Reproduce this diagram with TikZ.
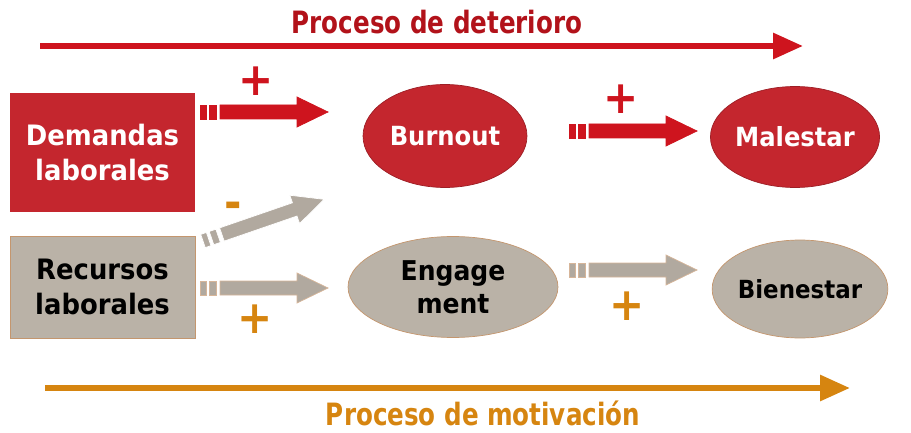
\documentclass[tikz,border=0pt]{standalone}
\usepackage{fontspec}
\setmainfont{DejaVu Sans}
\newfontfamily\headfont{DejaVu Sans}[FakeStretch=0.8]
\newfontfamily\boxfont{DejaVu Sans}[FakeStretch=0.92]
\usepackage{tikz}
\usetikzlibrary{shapes.geometric}
\usetikzlibrary{arrows.meta}
\usetikzlibrary{calc}
\definecolor{deepred}{RGB}{178, 18, 26}
\definecolor{boxred}{RGB}{196, 38, 46}
\definecolor{arrowred}{RGB}{206, 20, 30}
\definecolor{taupe}{RGB}{186, 178, 167}
\definecolor{ochre}{RGB}{214, 133, 16}
\definecolor{tanline}{RGB}{196, 150, 110}

\tikzset{
  pics/flowarrow/.style={code={
      \filldraw (0,-7) rectangle (6,7);
      \filldraw (9,-7) rectangle (16,7);
      \filldraw (20,-7) -- (97,-7) -- (97,-15) -- (128,0) -- (97,15) -- (97,7) -- (20,7) -- cycle;
  }},
  redbox/.style={rectangle, fill=boxred, text=white, align=center, inner sep=0pt,
                 font=\boxfont\bfseries\fontsize{16}{20}\selectfont},
  greybox/.style={rectangle, fill=taupe, draw=tanline, thin, text=black, align=center, inner sep=0pt,
                  font=\boxfont\bfseries\fontsize{16}{20}\selectfont},
  redoval/.style={ellipse, fill=boxred, draw=boxred!80!black, thin, text=white, inner sep=0pt,
                  font=\boxfont\bfseries\fontsize{15}{17}\selectfont},
  greyoval/.style={ellipse, fill=taupe, draw=tanline, thin, text=black, align=center, inner sep=0pt,
                   font=\boxfont\bfseries\fontsize{15.5}{19}\selectfont},
  sign/.style={inner sep=0pt, font=\boxfont\bfseries\fontsize{26}{26}\selectfont},
  process/.style={line width=3.4pt, -{Triangle[length=0.6cm, width=0.5cm]}},
}

\begin{document}
\begin{tikzpicture}[x=0.02cm, y=-0.02cm]
    \useasboundingbox (0,0) rectangle (911,432);
    % Titles
    \node[text=deepred, font=\headfont\bfseries\fontsize{17.5}{20}\selectfont] (titleA) at (437, 22) {Proceso de deterioro};
    \node[text=ochre,   font=\headfont\bfseries\fontsize{17.5}{20}\selectfont] (titleB) at (483,413) {Proceso de motivación};
    % Process lines
    \coordinate (detS) at ( 40, 46);
    \coordinate (detE) at (803, 46);
    \coordinate (motS) at ( 45,388);
    \coordinate (motE) at (850,388);
    \draw[process, color=arrowred] (detS) -- (detE);
    \draw[process, color=ochre]    (motS) -- (motE);
    % Boxes
    \node[redbox,  minimum width=3.7cm, minimum height=2.38cm] (dem) at (102.5,152.5) {Demandas\\laborales};
    \node[greybox, minimum width=3.7cm, minimum height=2.04cm] (rec) at (102.5,287)   {Recursos\\laborales};
    % Ovals
    \node[redoval,  minimum width=3.28cm, minimum height=2.06cm] (burn) at (445,136) {Burnout};
    \node[redoval,  minimum width=3.28cm, minimum height=2.02cm] (mal)  at (795,137) {Malestar};
    \node[greyoval, minimum width=4.2cm,  minimum height=2.02cm] (eng)  at (453,287) {Engage\\ment};
    \node[greyoval, minimum width=3.4cm,  minimum height=1.96cm,
          font=\boxfont\bfseries\fontsize{14.2}{16}\selectfont]    (bien) at (800,289) {Bienestar};
    % Block arrows
    \pic[fill=arrowred, draw=arrowred] at (200,112) {flowarrow};
    \pic[fill=arrowred, draw=arrowred] at (569,131) {flowarrow};
    \pic[fill=taupe!95!black, draw=white, thin, rotate=19] at (203,241) {flowarrow};
    \pic[fill=taupe!95!black, draw=tanline!70, thin] at (200,288) {flowarrow};
    \pic[fill=taupe!95!black, draw=tanline!70, thin] at (569,270) {flowarrow};
    % Signs
    \node[sign, text=arrowred] (plusA)  at (256, 81) {+};
    \node[sign, text=arrowred] (plusB)  at (621, 99) {+};
    \node[sign, text=ochre]    (minusA) at (233,210) {-};
    \node[sign, text=ochre]    (plusC)  at (255,319) {+};
    \node[sign, text=ochre]    (plusD)  at (627,306) {+};
\end{tikzpicture}
\end{document}
